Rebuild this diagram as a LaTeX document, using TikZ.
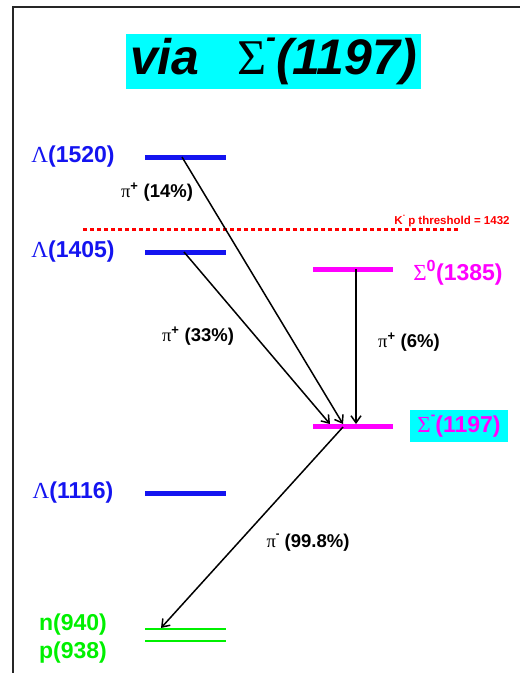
\documentclass[tikz,border=0pt]{standalone}
\usepackage{fontspec}
\setmainfont{Liberation Sans}
\newfontfamily\grk{Liberation Serif}
\usetikzlibrary{arrows.meta}
\definecolor{lvblue}{RGB}{20,20,240}
\definecolor{lvgreen}{RGB}{0,240,0}
\definecolor{lvmag}{RGB}{255,0,255}
\definecolor{lvcyan}{RGB}{0,255,255}
\definecolor{lvred}{RGB}{255,0,0}
\newcommand{\supm}{\raisebox{0.55em}{\scalebox{0.6}{-}}}
\begin{document}
\begin{tikzpicture}[x=1pt,y=-1pt,
  levelblue/.style={draw=lvblue,line width=5pt},
  levelmag/.style={draw=lvmag,line width=5pt},
  levelgreen/.style={draw=lvgreen,line width=2.4pt},
  lab/.style={font=\fontsize{23}{25}\selectfont\bfseries,inner sep=0pt},
  decay/.style={draw=black,line width=1.5pt,-{Straight Barb[length=7pt,width=10pt]}},
  declab/.style={font=\fontsize{18.5}{20}\selectfont\bfseries,inner sep=0pt}]
\useasboundingbox (0,0) rectangle (520,673);
\draw[line width=2.5pt,black!85] (13,673) -- (13,7) -- (520,7);
% title
\node[fill=lvcyan,minimum width=295pt,minimum height=55pt,inner sep=0pt,
  font=\fontsize{50}{52}\selectfont\bfseries\itshape] (title) at (273.5,61.5)
  {via\hspace{0.75em}{\upshape\mdseries\grk Σ}\supm(1197)};
% levels
\draw[levelblue] (145,157) -- (226,157);
\draw[levelblue] (145,252) -- (226,252);
\draw[levelblue] (145,493) -- (226,493);
\draw[levelmag] (313,269) -- (393,269);
\draw[levelmag] (313,426) -- (393,426);
\draw[levelgreen] (145,629) -- (226,629);
\draw[levelgreen] (145,641) -- (226,641);
% threshold
\draw[color=lvred,line width=2.2pt,dash pattern=on 4pt off 3pt] (83,229.5) -- (458,229.5);
\node[text=lvred,font=\fontsize{11.5}{12}\selectfont\bfseries,inner sep=0pt] (thr) at (452,221)
  {K\supm\ p threshold = 1432};
% labels
\node[lab,text=lvblue] (l1520) at (73,157) {{\grk\mdseries Λ}(1520)};
\node[lab,text=lvblue] (l1405) at (73,252) {{\grk\mdseries Λ}(1405)};
\node[lab,text=lvblue] (l1116) at (73,493) {{\grk\mdseries Λ}(1116)};
\node[lab,text=lvmag] (s1385) at (458,273) {{\grk\mdseries Σ}\textsuperscript{0}(1385)};
\node[lab,text=lvmag,fill=lvcyan,minimum width=98pt,minimum height=32pt] (s1197) at (459,426)
  {{\grk\mdseries Σ}\supm(1197)};
\node[lab,text=lvgreen] (n940) at (73,625) {n(940)};
\node[lab,text=lvgreen] (p938) at (73,653) {p(938)};
% decay points
\coordinate (a1) at (182,157);
\coordinate (a2) at (184,252);
\coordinate (a3) at (356,269);
\coordinate (b1) at (343,424);
\coordinate (b2) at (330,424);
\coordinate (b3) at (356,424);
\coordinate (c0) at (343,427);
\coordinate (c1) at (161,628);
\draw[decay] (a1) -- (b1);
\draw[decay] (a2) -- (b2);
\draw[decay] (a3) -- (b3);
\draw[decay] (c0) -- (c1);
% decay labels
\node[declab] (d14) at (157,192) {{\grk\mdseries π}\textsuperscript{+} (14\%)};
\node[declab] (d33) at (198,336) {{\grk\mdseries π}\textsuperscript{+} (33\%)};
\node[declab] (d6) at (409,342) {{\grk\mdseries π}\textsuperscript{+} (6\%)};
\node[declab] (d998) at (308,543) {{\grk\mdseries π}\supm\ (99.8\%)};
\end{tikzpicture}
\end{document}
